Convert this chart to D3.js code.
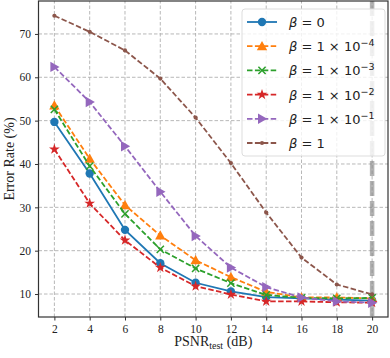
<!DOCTYPE html>
<html>
<head>
<meta charset="utf-8">
<script src="https://cdn.jsdelivr.net/npm/d3@7"></script>
<style>
  body { margin: 0; background: #fff; }
  .tick text { font-family: "Liberation Serif", "DejaVu Serif", serif; font-size: 11.5px; fill: #222; }
  .axLabel { font-family: "Liberation Serif", serif; font-size: 14px; fill: #222; }
  .legText { font-family: "DejaVu Sans", sans-serif; font-size: 13px; fill: #222; }
</style>
</head>
<body>
<div id="chart"></div>
<script>
const psnr = [2, 4, 6, 8, 10, 12, 14, 16, 18, 20];
const xTicks = [2, 4, 6, 8, 10, 12, 14, 16, 18, 20];
const yTicks = [10, 20, 30, 40, 50, 60, 70];

const beta0    = [49.7, 37.8, 24.8, 17.1, 12.6, 10.6, 9.3, 9.0, 8.7, 8.5];
const beta1e4  = [53.5, 41.2, 30.5, 23.5, 17.8, 13.9, 10.5, 9.2, 9.2, 9.0];
const beta1e3  = [52.6, 39.5, 28.5, 20.3, 15.9, 12.5, 9.8, 9.1, 9.0, 9.1];
const beta1e2  = [43.4, 30.9, 22.4, 16.1, 11.8, 9.9, 8.3, 8.3, 8.1, 8.0];
const beta1e1  = [62.4, 54.3, 44.1, 33.6, 23.4, 16.1, 11.6, 9.2, 8.3, 8.0];
const beta1    = [74.2, 70.5, 66.2, 59.7, 50.7, 40.2, 28.8, 18.4, 12.2, 9.9];

const series = [
    { label: ['0'], values: beta0, colour: '#1f77b4', marker: 'circle', dashed: false },
    { label: ['1 × 10', '−4'], values: beta1e4, colour: '#ff7f0e', marker: 'triUp', dashed: true },
    { label: ['1 × 10', '−3'], values: beta1e3, colour: '#2ca02c', marker: 'x', dashed: true },
    { label: ['1 × 10', '−2'], values: beta1e2, colour: '#d62728', marker: 'star', dashed: true },
    { label: ['1 × 10', '−1'], values: beta1e1, colour: '#9467bd', marker: 'triRight', dashed: true },
    { label: ['1'], values: beta1, colour: '#8c564b', marker: 'dot', dashed: true }
];

const width = 390, height = 358;
const margin = { top: 1, right: 2, bottom: 41, left: 38.5 };

const svg = d3.select('#chart').append('svg')
    .attr('width', width)
    .attr('height', height);

const x = d3.scaleLinear()
    .domain([1.1, 20.9])
    .range([margin.left, width - margin.right]);

const y = d3.scaleLinear()
    .domain([4.7, 77.6])
    .range([height - margin.bottom, margin.top]);

// grid
const grid = svg.append('g').attr('class', 'grid');
grid.selectAll('line.gx').data(xTicks).enter().append('line')
    .attr('x1', d => x(d)).attr('x2', d => x(d))
    .attr('y1', y.range()[0]).attr('y2', y.range()[1])
    .style('stroke', '#b0b0b0').style('stroke-width', 0.9)
    .style('stroke-dasharray', '3.5,2');
grid.selectAll('line.gy').data(yTicks).enter().append('line')
    .attr('x1', x.range()[0]).attr('x2', x.range()[1])
    .attr('y1', d => y(d)).attr('y2', d => y(d))
    .style('stroke', '#b0b0b0').style('stroke-width', 0.9)
    .style('stroke-dasharray', '3.5,2');

// thick gray reference line at 20 dB
svg.append('line')
    .attr('x1', x(20)).attr('x2', x(20))
    .attr('y1', y.range()[1]).attr('y2', y.range()[0])
    .style('stroke', '#808080').style('stroke-opacity', 0.6)
    .style('stroke-width', 4.5)
    .style('stroke-dasharray', '15,5');

const symbolFor = function (m) {
    if (m === 'circle') return d3.symbol().type(d3.symbolCircle).size(55)();
    if (m === 'triUp') return 'M0,-5.2L5.2,4L-5.2,4Z';
    if (m === 'triRight') return 'M-4,-5.2L5.2,0L-4,5.2Z';
    if (m === 'star') return d3.symbol().type(d3.symbolStar).size(36)();
    if (m === 'dot') return d3.symbol().type(d3.symbolCircle).size(14)();
    return 'M-3.6,-3.6L3.6,3.6M-3.6,3.6L3.6,-3.6';
};

const line = d3.line().x((d, i) => x(psnr[i])).y(d => y(d));

series.forEach(s => {
    const g = svg.append('g');
    g.append('path')
        .datum(s.values)
        .attr('d', line)
        .style('fill', 'none')
        .style('stroke', s.colour)
        .style('stroke-width', 1.8)
        .style('stroke-dasharray', s.dashed ? '5.5,2.4' : null);
    g.selectAll('path.mk').data(s.values).enter().append('path')
        .attr('class', 'mk')
        .attr('transform', (d, i) => `translate(${x(psnr[i])},${y(d)})`)
        .attr('d', symbolFor(s.marker))
        .style('fill', s.marker === 'x' ? 'none' : s.colour)
        .style('stroke', s.colour)
        .style('stroke-width', s.marker === 'x' ? 1.5 : 0);
});

// axes
const xAxis = d3.axisBottom(x).tickValues(xTicks).tickSize(3.5).tickPadding(4);
const yAxis = d3.axisLeft(y).tickValues(yTicks).tickSize(3.5).tickPadding(4);

svg.append('g')
    .attr('transform', `translate(0,${y.range()[0]})`)
    .call(xAxis)
    .call(g => g.select('.domain').remove());
svg.append('g')
    .attr('transform', `translate(${x.range()[0]},0)`)
    .call(yAxis)
    .call(g => g.select('.domain').remove());
svg.selectAll('.tick line').style('stroke', '#333').style('stroke-width', 1);

// frame
svg.append('rect')
    .attr('x', x.range()[0]).attr('y', y.range()[1])
    .attr('width', x.range()[1] - x.range()[0])
    .attr('height', y.range()[0] - y.range()[1])
    .style('fill', 'none').style('stroke', '#333').style('stroke-width', 1.2);

// axis labels
const xl = svg.append('text')
    .attr('class', 'axLabel')
    .attr('x', (x.range()[0] + x.range()[1]) / 2)
    .attr('y', 346)
    .style('text-anchor', 'middle');
xl.append('tspan').text('PSNR');
xl.append('tspan').attr('dy', 3).style('font-size', '10px').text('test');
xl.append('tspan').attr('dy', -3).text(' (dB)');

svg.append('text')
    .attr('class', 'axLabel')
    .attr('transform', `translate(14,${(y.range()[0] + y.range()[1]) / 2}) rotate(-90)`)
    .style('text-anchor', 'middle')
    .text('Error Rate (%)');

// legend
const leg = svg.append('g').attr('transform', 'translate(242,9)');
leg.append('rect')
    .attr('width', 143).attr('height', 147)
    .attr('rx', 3)
    .style('fill', '#fff').style('fill-opacity', 0.8)
    .style('stroke', '#ddd').style('stroke-width', 1);

series.forEach((s, i) => {
    const row = leg.append('g').attr('transform', `translate(0,${13 + i * 24.2})`);
    row.append('line')
        .attr('x1', 5).attr('x2', 35)
        .style('stroke', s.colour).style('stroke-width', 1.8)
        .style('stroke-dasharray', s.dashed ? '5.5,2.4' : null);
    row.append('path')
        .attr('transform', 'translate(20,0)')
        .attr('d', symbolFor(s.marker))
        .style('fill', s.marker === 'x' ? 'none' : s.colour)
        .style('stroke', s.colour)
        .style('stroke-width', s.marker === 'x' ? 1.5 : 0);
    const t = row.append('text')
        .attr('class', 'legText')
        .attr('x', 47).attr('y', 5);
    t.append('tspan').style('font-style', 'italic').text('β');
    t.append('tspan').text(' = ' + s.label[0]);
    if (s.label.length > 1) {
        t.append('tspan').attr('dy', -5).style('font-size', '9.5px').text(s.label[1]);
    }
});
</script>
</body>
</html>
